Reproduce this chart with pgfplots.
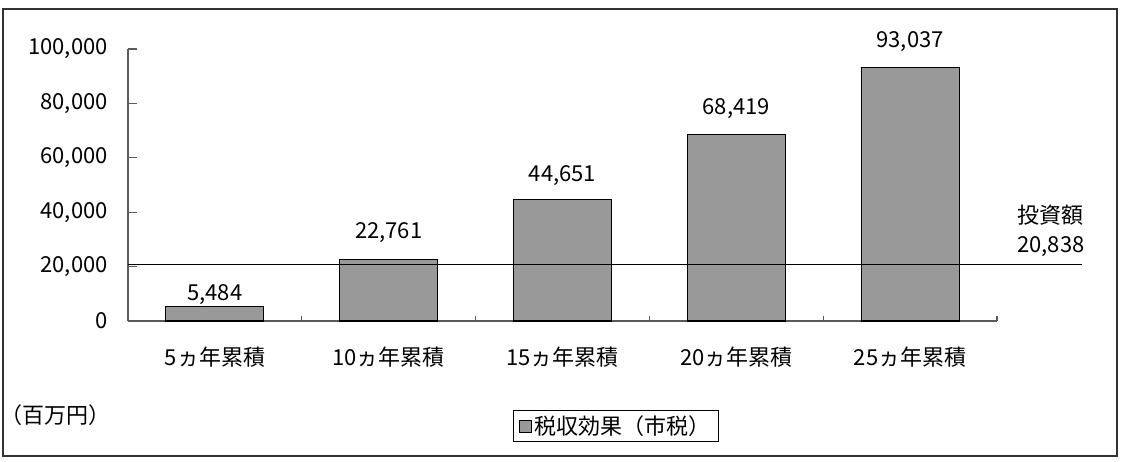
\documentclass[border=0pt]{standalone}
\usepackage{pgfplots}
\usepackage{pgfplotstable}
\pgfplotsset{compat=1.18}
\usepackage{fontspec}
\setmainfont{Noto Sans CJK JP}
\definecolor{bargray}{RGB}{153,153,153}
\definecolor{axgray}{RGB}{90,90,90}
\definecolor{framegray}{RGB}{50,50,50}
\pgfplotstableread{
x   y      dy
0.5 5484   4.5
1.5 22761  15.75
2.5 44651  13.2
3.5 68419  15
4.5 93037  15
}\taxdata
\begin{document}
\begin{tikzpicture}[x=0.75pt,y=0.75pt]
\useasboundingbox (0,0) rectangle (1127,461);
\draw[framegray, line width=1.5pt] (3,5) rectangle (1117,452);
\begin{axis}[
  at={(96pt,105pt)}, anchor=south west,
  scale only axis, width=651.75pt, height=204pt,
  xmin=0, xmax=5, ymin=0, ymax=100000,
  clip=false,
  axis x line*=bottom, axis y line*=left,
  axis line style={axgray, line width=0.8pt},
  tick align=inside,
  font=\fontsize{16.5}{20}\selectfont,
  /pgf/number format/.cd, fixed, precision=0, 1000 sep={,}, assume math mode=true, /pgfplots/.cd,
  ytick={0,20000,...,100000},
  scaled y ticks=false,
  ytick style={axgray, line width=0.8pt, /pgfplots/major tick length=6.75pt},
  xtick={0,1,...,5}, xticklabels={},
  xtick style={axgray, line width=0.8pt, /pgfplots/major tick length=3.75pt},
  extra x ticks={0.5,1.5,2.5,3.5,4.5},
  extra x tick labels={5ヵ年累積,10ヵ年累積,15ヵ年累積,20ヵ年累積,25ヵ年累積},
  extra x tick style={/pgfplots/major tick length=0pt, xticklabel style={anchor=north, inner sep=0pt, yshift=-19pt}},
  yticklabel style={anchor=east, inner sep=0pt, xshift=-15pt},
  legend style={at={(0.5616,-0.386)}, anchor=center, draw=black, line width=0.6pt,
    inner xsep=4pt, inner ysep=2pt, font=\fontsize{16.5}{20}\selectfont},
  legend cell align=left,
]
\addplot[ybar, bar width=73.5pt, fill=bargray, draw=black, line width=0.8pt,
  visualization depends on={\thisrow{dy}\as\labdy},
  nodes near coords, nodes near coords style={anchor=base, inner sep=0pt, yshift=\labdy pt, black},
  legend image code/.code={\draw[fill=bargray, draw=black, line width=0.6pt] (0pt,-4.5pt) rectangle (9pt,4.5pt);}]
  table[x=x, y=y] {\taxdata};
\addlegendentry{税収効果（市税）}
\addplot[black, line width=0.8pt, forget plot] coordinates {(0,20838) (5.489,20838)};
\end{axis}
\node[anchor=west, align=left, inner sep=0pt, font=\fontsize{16.5}{21.75}\selectfont] at (1017,230) {投資額\\20,838};
\node[font=\fontsize{16.5}{20}\selectfont, inner sep=0pt] at (55,46) {（百万円）};
\end{tikzpicture}
\end{document}
